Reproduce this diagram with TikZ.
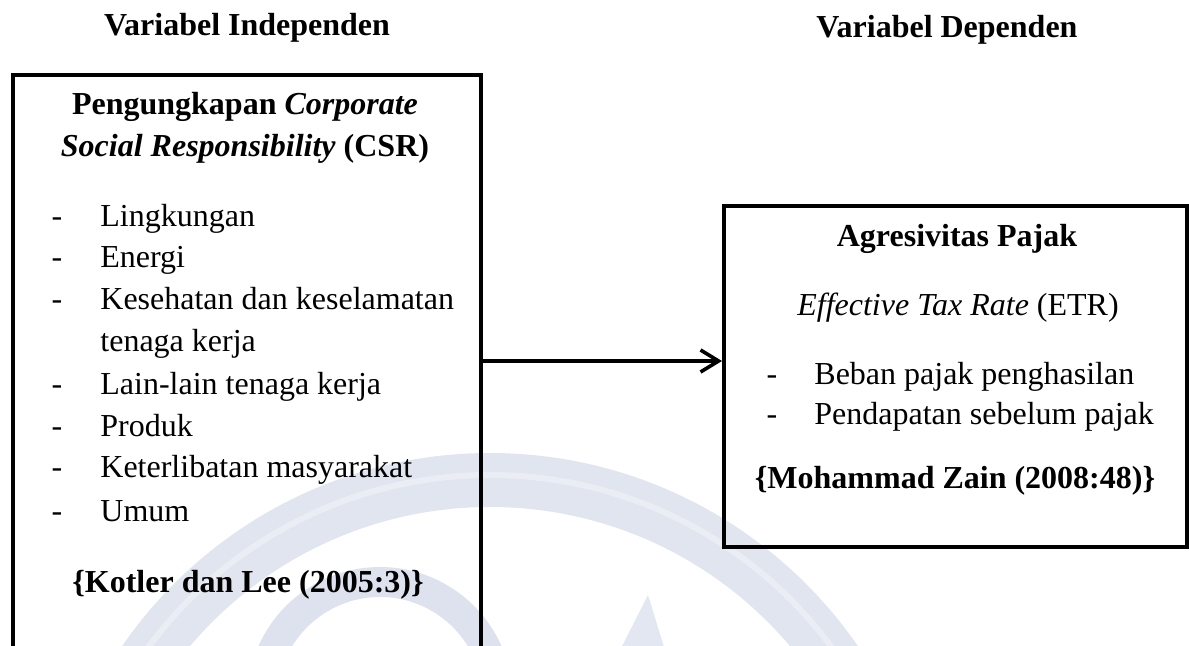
\documentclass[tikz,border=0pt]{standalone}
\usepackage{fontspec}
\setmainfont{Liberation Serif}
\usetikzlibrary{arrows.meta}
\definecolor{wm}{rgb}{0.78,0.81,0.89}
\tikzset{
  box/.style={draw=black, line width=2pt, fill=none, anchor=north west, inner sep=0pt},
  txt/.style={anchor=base, inner sep=0pt, font=\fontsize{16}{21}\selectfont},
  txtl/.style={anchor=base west, inner sep=0pt, font=\fontsize{16}{21}\selectfont},
  dashmark/.style={anchor=base, inner sep=0pt, font=\fontsize{16}{21}\selectfont},
  arr/.style={line width=1.8pt, -{Straight Barb[length=9pt,width=11pt,line width=1.8pt]}},
  wmark/.style={draw=wm, opacity=0.55},
}
\begin{document}
\begin{tikzpicture}[x=0.5pt,y=-0.5pt]
\useasboundingbox (0,0) rectangle (1189,646);
\clip (0,0) rectangle (1189,646);
% watermark (faint)
\draw[wmark, line width=27pt] (490,900) circle [radius=420];
\draw[white, line width=3pt, opacity=0.35] (490,900) circle [radius=425];
\draw[wmark, line width=15pt, opacity=0.6] (380,700) circle [radius=118];
\fill[wm, opacity=0.5] (615,660) -- (648,595) -- (668,660) -- cycle;
% boxes
\node[box, minimum width=234pt, minimum height=400pt] (L) at (11,73) {};
\node[box, minimum width=231.5pt, minimum height=170.5pt] (R) at (722,204) {};
% titles
\node[txt, font=\fontsize{16}{21}\selectfont\bfseries] (t1) at (247,36) {Variabel Independen};
\node[txt, font=\fontsize{16}{21}\selectfont\bfseries] (t2) at (947,38) {Variabel Dependen};
% left box content
\node[txt, font=\fontsize{16}{21}\selectfont\bfseries] (h1) at (245,115) {Pengungkapan \textit{Corporate}};
\node[txt, font=\fontsize{16}{21}\selectfont\bfseries] (h2) at (245,157) {\textit{Social Responsibility} (CSR)};
\foreach \y/\t [count=\i] in {227/Lingkungan, 268/Energi, 310/Kesehatan dan keselamatan, 395/Lain-lain tenaga kerja, 437/Produk, 478/Keterlibatan masyarakat, 522/Umum}{
  \node[dashmark] (ld\i) at (57,\y) {-};
  \node[txtl] (li\i) at (100,\y) {\t};
}
\node[txtl] (li3b) at (100,352) {tenaga kerja};
\node[txt, font=\fontsize{16}{21}\selectfont\bfseries] (ref1) at (248,592) {\{Kotler dan Lee (2005:3)\}};
% right box content
\node[txt, font=\fontsize{16}{21}\selectfont\bfseries] (h3) at (957,247) {Agresivitas Pajak};
\node[txt] (h4) at (958,316) {\textit{Effective Tax Rate} (ETR)};
\node[dashmark] (rd1) at (772,385) {-};
\node[txtl] (ri1) at (814,385) {Beban pajak penghasilan};
\node[dashmark] (rd2) at (772,425) {-};
\node[txtl] (ri2) at (814,425) {Pendapatan sebelum pajak};
\node[txt, font=\fontsize{16}{21}\selectfont\bfseries] (ref2) at (955,488) {\{Mohammad Zain (2008:48)\}};
% connector
\coordinate (ay) at (600,361);
\draw[arr] (ay -| L.east) -- (ay -| R.west);
\end{tikzpicture}
\end{document}
